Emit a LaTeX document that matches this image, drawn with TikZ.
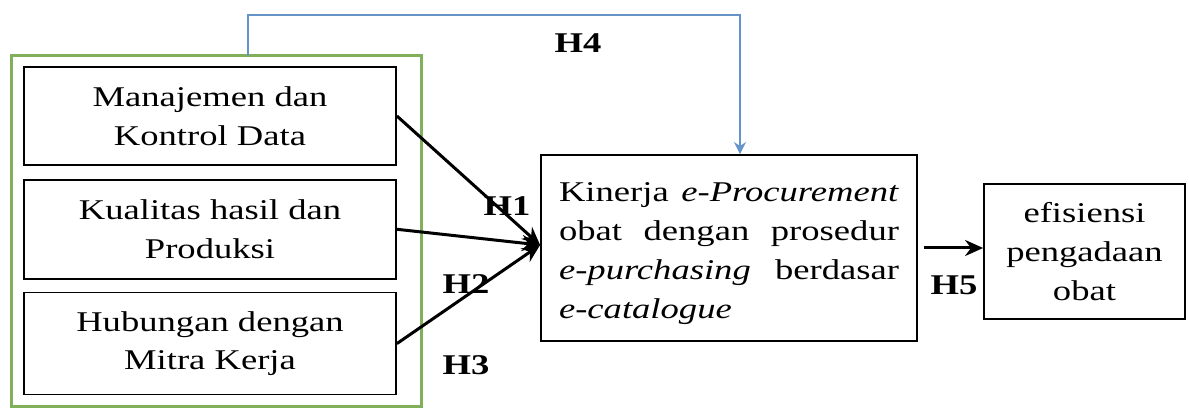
\documentclass[tikz,border=0pt]{standalone}
\usepackage{fontspec}
\setmainfont{Liberation Serif}[FakeStretch=1.28]
\usetikzlibrary{positioning,fit,arrows.meta}

\definecolor{hblue}{RGB}{100,148,200}
\definecolor{hgreen}{RGB}{128,176,90}

\begin{document}
\begin{tikzpicture}[x=0.5pt,y=-0.5pt
        , every node/.style={font=\fontsize{14.3}{19.4}\selectfont}
        , var/.style={draw, line width=0.9pt, minimum width=186pt, align=center, inner sep=0pt}
        , hyp/.style={font=\fontsize{14.3}{19.4}\selectfont\bfseries}
        , arr/.style={-{Stealth[length=9pt,width=8pt]}, line width=1.5pt}
        ]
        \useasboundingbox (0,0) rectangle (1189,410);

        \node (man) [var, minimum height=49pt] at (210,116) {Manajemen dan\\Kontrol Data};
        \node (kua) [var, minimum height=49.5pt, below=6.5pt of man] {Kualitas hasil dan\\Produksi};
        \node (hub) [var, minimum height=51pt, below=6pt of kua] {Hubungan dengan\\Mitra Kerja};
        \node (grp) [draw=hgreen, line width=1.5pt, inner sep=0pt, fit={(11.5,56) (421,407)}] {};

        \node (kin) [draw, line width=0.9pt, minimum width=188pt, minimum height=93pt,
                     text width=170pt, align=justify, inner sep=0pt] at (729,248)
              {\rule{0pt}{15pt}Kinerja\hspace{-0.2em} \mbox{\textit{e-Procurement}}\linebreak obat dengan prosedur\linebreak
               \mbox{\textit{e-purchasing}} berdasar\linebreak \mbox{\textit{e-catalogue}}};
        \node (efi) [var, minimum width=100.5pt, minimum height=67.5pt] at (1084.5,251.5)
              {efisiensi\\pengadaan\\obat};

        \coordinate (meet) at ([yshift=1.5pt]kin.west);
        \draw[arr] (man.east) -- (meet);
        \draw[arr] (kua.east) -- (meet);
        \draw[arr] (hub.east) -- (meet);
        \draw[arr] ([xshift=3pt]kin.east) -- (kin.east -| efi.west);

        \coordinate (h4a) at (248,56);
        \coordinate (h4b) at (248,15);
        \draw[hblue, line width=1.1pt, -{Stealth[length=6pt,width=6pt]}]
              (h4a) -- (h4b) -| ([xshift=5.5pt]kin.north);

        \node (h1) [hyp] at (507,206) {H1};
        \node (h2) [hyp] at (466,284) {H2};
        \node (h3) [hyp] at (466,365) {H3};
        \node (h4) [hyp] at (578,43) {H4};
        \node (h5) [hyp] at (954,285) {H5};

\end{tikzpicture}
\end{document}
